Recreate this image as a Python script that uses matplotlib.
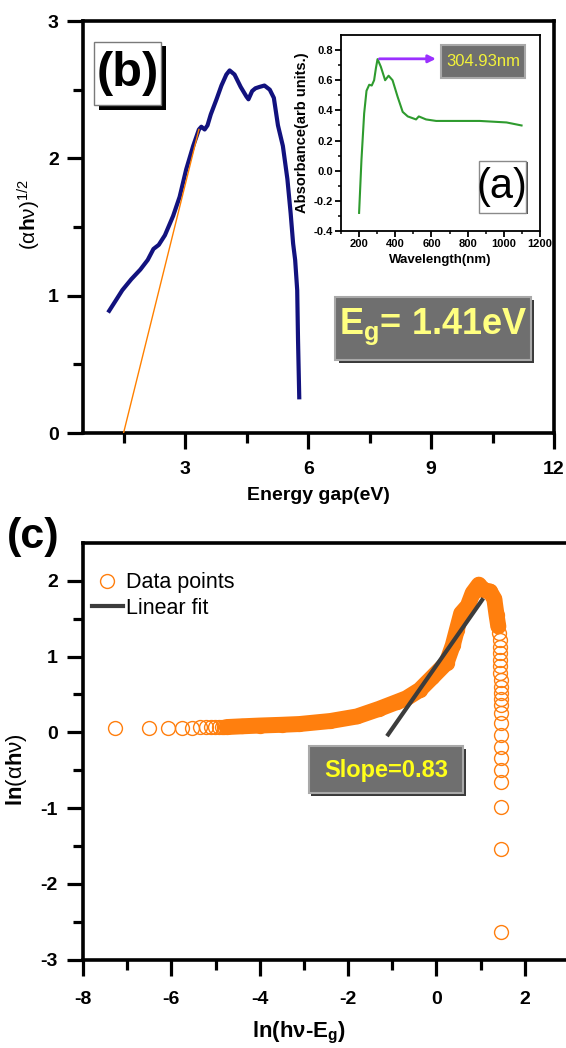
import matplotlib
matplotlib.use("Agg")
import matplotlib.pyplot as plt
from matplotlib import font_manager
from matplotlib.patches import Rectangle
from matplotlib.lines import Line2D

names = {f.name for f in font_manager.fontManager.ttflist}
NARROW = "Liberation Sans Narrow" if "Liberation Sans Narrow" in names else "Liberation Sans"
plt.rcParams["font.family"] = [NARROW, "DejaVu Sans"]
plt.rcParams["mathtext.fontset"] = "custom"
plt.rcParams["mathtext.rm"] = NARROW
plt.rcParams["mathtext.bf"] = NARROW + ":bold"
plt.rcParams["mathtext.it"] = NARROW + ":italic"
plt.rcParams["axes.unicode_minus"] = False

# ---- (b) Tauc plot
energy = [1.14, 1.29, 1.46, 1.68, 1.90, 2.08, 2.22, 2.35, 2.50, 2.70, 2.86, 3.02, 3.19,
          3.33, 3.39, 3.47, 3.54, 3.62, 3.76, 3.88, 4.00, 4.08, 4.20, 4.35, 4.49, 4.54,
          4.63, 4.71, 4.81, 4.93, 5.06, 5.16, 5.26, 5.38, 5.49, 5.57, 5.63, 5.68, 5.73,
          5.75, 5.78]
tauc = [0.89, 0.96, 1.04, 1.12, 1.19, 1.26, 1.34, 1.37, 1.44, 1.58, 1.72, 1.92, 2.09,
        2.21, 2.23, 2.21, 2.24, 2.32, 2.43, 2.53, 2.61, 2.64, 2.61, 2.52, 2.45, 2.43,
        2.49, 2.51, 2.52, 2.53, 2.50, 2.44, 2.24, 2.09, 1.85, 1.60, 1.38, 1.26, 1.04,
        0.68, 0.26]
tangent_x = [1.49, 3.33]
tangent_y = [0.0, 2.21]

# ---- (a) inset absorbance
wavelength = [200, 213, 228, 241, 256, 270, 283, 293, 302, 320, 344, 363, 385, 413,
              441, 469, 515, 530, 570, 626, 867, 1015, 1098]
absorbance = [-0.28, 0.07, 0.38, 0.53, 0.57, 0.565, 0.60, 0.68, 0.74, 0.69, 0.60, 0.63,
              0.60, 0.49, 0.39, 0.36, 0.34, 0.36, 0.34, 0.33, 0.33, 0.32, 0.30]
peak_nm = 304.93

# ---- (c) ln plot
sparse_x = [-7.28, -6.51, -6.08, -5.76, -5.54, -5.36, -5.22, -5.11, -5.02, -4.93, -4.86, -4.81]
sparse_y = [0.06, 0.06, 0.06, 0.06, 0.06, 0.065, 0.065, 0.065, 0.07, 0.07, 0.07, 0.07]
band_x = [-4.75, -4.4, -4.0, -3.5, -3.1, -2.4, -1.8, -1.3, -0.9, -0.68, -0.38, -0.09, 0.23,
          0.37, 0.46, 0.56, 0.71, 0.82, 0.96, 1.06, 1.21, 1.31, 1.36, 1.40]
band_y = [0.07, 0.08, 0.09, 0.10, 0.11, 0.15, 0.21, 0.31, 0.40, 0.45, 0.56, 0.73, 0.92,
          1.15, 1.35, 1.57, 1.67, 1.84, 1.95, 1.88, 1.86, 1.76, 1.55, 1.40]
tail_x = [1.42, 1.43, 1.43, 1.44, 1.44, 1.44, 1.44, 1.45, 1.45, 1.45, 1.45, 1.45, 1.45,
          1.45, 1.45, 1.45, 1.45, 1.45, 1.45, 1.45, 1.45, 1.45]
tail_y = [1.31, 1.22, 1.13, 1.05, 0.96, 0.87, 0.79, 0.69, 0.60, 0.52, 0.44, 0.36, 0.26,
          0.13, -0.03, -0.19, -0.34, -0.50, -0.65, -0.98, -1.54, -2.63]
fit_x = [-1.12, 1.06]
fit_y = [-0.05, 1.77]

NAVY = "#12127e"
ORANGE = "#ff7f0e"
GREEN = "#2e9b2e"
GREYBOX = "#6f6f6f"

W, H = 566, 1048
fig = plt.figure(figsize=(W / 100, H / 100), dpi=100)


def add_axes_px(left, top, right, bottom):
    return fig.add_axes([left / W, 1 - bottom / H, (right - left) / W, (bottom - top) / H])


def style(ax, xpad, ypad):
    for s in ax.spines.values():
        s.set_linewidth(2.6)
    ax.tick_params(which="major", direction="out", length=11.5, width=2.3, labelsize=14)
    ax.tick_params(which="minor", direction="out", length=7, width=2.3)
    ax.tick_params(axis="x", pad=xpad)
    ax.tick_params(axis="y", pad=ypad)
    for lab in ax.get_xticklabels() + ax.get_yticklabels():
        lab.set_fontweight("bold")


def grey_box(ax, x0, y0, x1, y1):
    ax.add_patch(Rectangle((x0, y0), x1 - x0, y1 - y0, facecolor=GREYBOX,
                           edgecolor="#a9a9a9", lw=1.5, zorder=5))


# ================= panel (b)
ax = add_axes_px(83, 21, 554, 433)
ax.plot(energy, tauc, color=NAVY, lw=3.0, solid_joinstyle="round", zorder=3)
ax.plot(tangent_x, tangent_y, color="#ff8000", lw=1.0, zorder=4)
ax.set_xlim(0.5, 12)
ax.set_ylim(0, 3)
ax.set_xticks([3, 6, 9, 12])
ax.set_xticks([1.5, 4.5, 7.5, 10.5], minor=True)
ax.set_yticks([0, 1, 2, 3])
ax.set_yticks([0.5, 1.5, 2.5], minor=True)
style(ax, 9, 6)
ax.set_xlabel("Energy gap(eV)", fontsize=14, fontweight="bold", labelpad=6)
ax.set_ylabel(r"(α$\mathbf{h}$ν)$^{1/2}$", fontsize=15)
ax.yaxis.set_label_coords(-0.085, 0.53)

# (b) label with shadow
ax.add_patch(Rectangle((0.90, 2.355), 1.63, 0.46, facecolor="black", edgecolor="none", zorder=5))
ax.add_patch(Rectangle((0.78, 2.39), 1.63, 0.46, facecolor="white", edgecolor="#7a7a7a",
                       lw=1, zorder=6))
ax.text(1.595, 2.62, "(b)", fontsize=35, fontweight="bold", ha="center", va="center", zorder=7)

# Eg box
ax.add_patch(Rectangle((6.74, 0.51), 4.78, 0.46, facecolor="#3a3a3a", edgecolor="none", zorder=4))
grey_box(ax, 6.66, 0.53, 11.44, 0.99)
ax.text(9.05, 0.77, r"E$_\mathbf{g}$= 1.41eV", color="#ffff80", fontsize=26,
        fontweight="bold", ha="center", va="center", zorder=7)

# ================= inset (a)
ai = add_axes_px(341, 35, 540, 231)
ai.plot(wavelength, absorbance, color=GREEN, lw=1.5)
ai.set_xlim(100, 1200)
ai.set_ylim(-0.4, 0.9)
ai.set_xticks(range(200, 1201, 200))
ai.set_xticks(range(100, 1201, 100), minor=True)
ai.set_yticks([-0.4, -0.2, 0.0, 0.2, 0.4, 0.6, 0.8])
ai.set_yticklabels(["-0.4", "-0.2", "0.0", "0.2", "0.4", "0.6", "0.8"])
ai.set_yticks([-0.3, -0.1, 0.1, 0.3, 0.5, 0.7], minor=True)
for s in ai.spines.values():
    s.set_linewidth(1.3)
ai.tick_params(which="major", direction="out", length=4, width=1.3, labelsize=8, pad=2)
ai.tick_params(which="minor", direction="out", length=2.5, width=1.1)
for lab in ai.get_xticklabels() + ai.get_yticklabels():
    lab.set_fontweight("bold")
ai.set_xlabel("Wavelength(nm)", fontsize=9.5, fontweight="bold", labelpad=3)
ai.set_ylabel("Absorbance(arb units.)", fontsize=10.5, fontweight="bold",
              family="Liberation Sans", labelpad=3)
ai.annotate("", xy=(640, 0.742), xytext=(peak_nm - 8, 0.742),
            arrowprops=dict(arrowstyle="-|>", color="#9b30ff", lw=2, mutation_scale=11))
grey_box(ai, 655, 0.613, 1117, 0.833)
ai.text(886, 0.723, "%.2fnm" % peak_nm, color="#f2f23a", fontsize=12,
        ha="center", va="center", zorder=7)
ai.add_patch(Rectangle((872, -0.29), 261, 0.347, facecolor="#505050", edgecolor="none", zorder=5))
ai.add_patch(Rectangle((861, -0.28), 261, 0.347, facecolor="white", edgecolor="#8a8a8a",
                       lw=1, zorder=6))
ai.text(991, -0.11, "(a)", fontsize=30, ha="center", va="center", zorder=7)

# ================= panel (c)
ac = add_axes_px(83, 543, 569, 959.6)
ac.plot(band_x, band_y, color=ORANGE, lw=11.5, solid_capstyle="round",
        solid_joinstyle="round", zorder=2)
ac.plot(sparse_x + band_x + tail_x, sparse_y + band_y + tail_y, ls="none", marker="o",
        mfc="none", mec=ORANGE, ms=10, mew=1.0, zorder=3)
ac.plot(fit_x, fit_y, color="#3c3c3c", lw=3, solid_capstyle="butt", zorder=4)
ac.set_xlim(-8, 3)
ac.set_ylim(-3, 2.5)
ac.set_xticks([-8, -6, -4, -2, 0, 2])
ac.set_xticks([-7, -5, -3, -1, 1], minor=True)
ac.set_yticks([-3, -2, -1, 0, 1, 2])
ac.set_yticks([-2.5, -1.5, -0.5, 0.5, 1.5], minor=True)
ac.spines["right"].set_visible(False)
style(ac, 11, 6.5)
ac.set_xlabel(r"ln(hν-E$_\mathbf{g}$)", fontsize=16, fontweight="bold")
ac.xaxis.set_label_coords(0.445, -0.145)
ac.set_ylabel(r"$\mathbf{ln}$(α$\mathbf{h}$ν)", fontsize=16)
ac.yaxis.set_label_coords(-0.112, 0.455)

handles = [Line2D([], [], ls="none", marker="o", mfc="none", mec=ORANGE, ms=10, mew=1.0),
           Line2D([], [], color="#3c3c3c", lw=3)]
ac.legend(handles, ["Data points", "Linear fit"], loc="upper left",
          bbox_to_anchor=(0.018, 0.93), frameon=False, fontsize=15.5, handlelength=1.45,
          handletextpad=0.15, labelspacing=0.22, borderpad=0, borderaxespad=0)

ac.add_patch(Rectangle((-2.83, -0.84), 3.5, 0.62, facecolor="#3a3a3a", edgecolor="none", zorder=4))
grey_box(ac, -2.89, -0.80, 0.61, -0.18)
ac.text(-1.14, -0.50, "Slope=0.83", color="#ffff1a", fontsize=17, fontweight="bold",
        ha="center", va="center", zorder=7)

fig.text(7 / W, 1 - 537 / H, "(c)", fontsize=31, fontweight="bold", ha="left", va="center")

fig.savefig("out.png", dpi=100, facecolor="white")
